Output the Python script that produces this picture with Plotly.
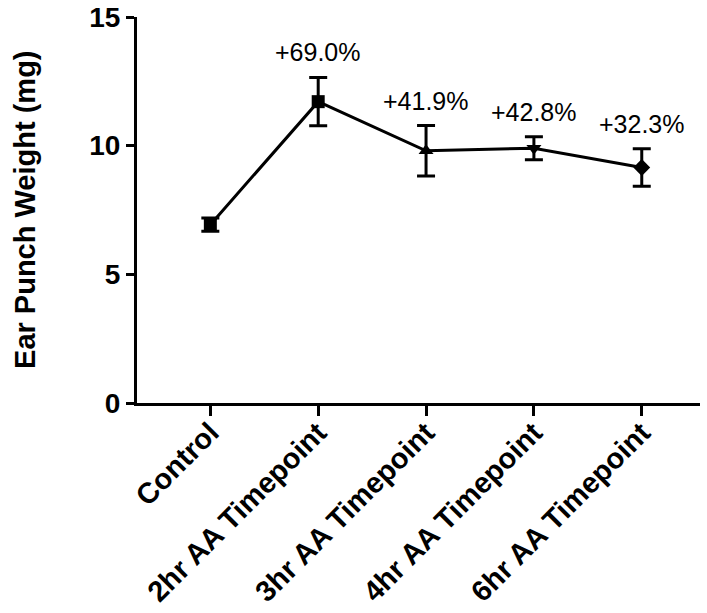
import plotly.graph_objects as go

categories = ["Control", "2hr AA Timepoint", "3hr AA Timepoint", "4hr AA Timepoint", "6hr AA Timepoint"]
means = [6.93, 11.71, 9.80, 9.90, 9.15]
errors = [0.26, 0.94, 0.98, 0.45, 0.73]
pct_labels = ["", "+69.0%", "+41.9%", "+42.8%", "+32.3%"]
symbols = ["square", "square", "triangle-up", "triangle-down", "diamond"]
y_ticks = [0, 5, 10, 15]

FONT = "Liberation Sans, Arial, Helvetica, sans-serif"

fig = go.Figure()
fig.add_trace(go.Scatter(
    x=categories, y=means,
    mode="lines+markers",
    line=dict(color="black", width=3),
    marker=dict(symbol=symbols, size=13, color="black"),
    error_y=dict(type="data", array=errors, visible=True, color="black", thickness=3, width=9),
    showlegend=False,
))

for c, m, e, t in zip(categories, means, errors, pct_labels):
    if t:
        fig.add_annotation(x=c, y=m + e, text=t, showarrow=False,
                           yanchor="middle", yshift=25,
                           font=dict(family=FONT, size=25, color="black"))

fig.add_annotation(xref="paper", yref="paper", x=-0.199, y=0.5,
                   text="Ear Punch Weight (mg)", textangle=-90, showarrow=False,
                   xanchor="center", yanchor="middle",
                   font=dict(family=FONT, size=29, color="black", weight="bold"))

fig.update_layout(
    width=707, height=613,
    margin=dict(l=137, r=7, t=17, b=210, autoexpand=False),
    plot_bgcolor="white", paper_bgcolor="white",
    font=dict(family=FONT, color="black"),
)
fig.update_xaxes(
    type="category", range=[-0.68, 4.54], automargin=False,
    showline=True, linecolor="black", linewidth=3,
    ticks="outside", ticklen=10, tickwidth=3, tickcolor="black",
    tickangle=-45, ticklabelstandoff=-12,
    tickfont=dict(family=FONT, size=29, color="black", weight="bold"),
    showgrid=False, zeroline=False,
)
fig.update_yaxes(
    range=[0, 15], tickvals=y_ticks, automargin=False,
    showline=True, linecolor="black", linewidth=3,
    ticks="outside", ticklen=8, tickwidth=3, tickcolor="black",
    tickfont=dict(family=FONT, size=28, color="black", weight="bold"),
    showgrid=False, zeroline=False,
)

fig.write_html("out.html", config={"displayModeBar": False},
               post_script="document.body.style.margin='0';document.body.style.overflow='hidden';")
